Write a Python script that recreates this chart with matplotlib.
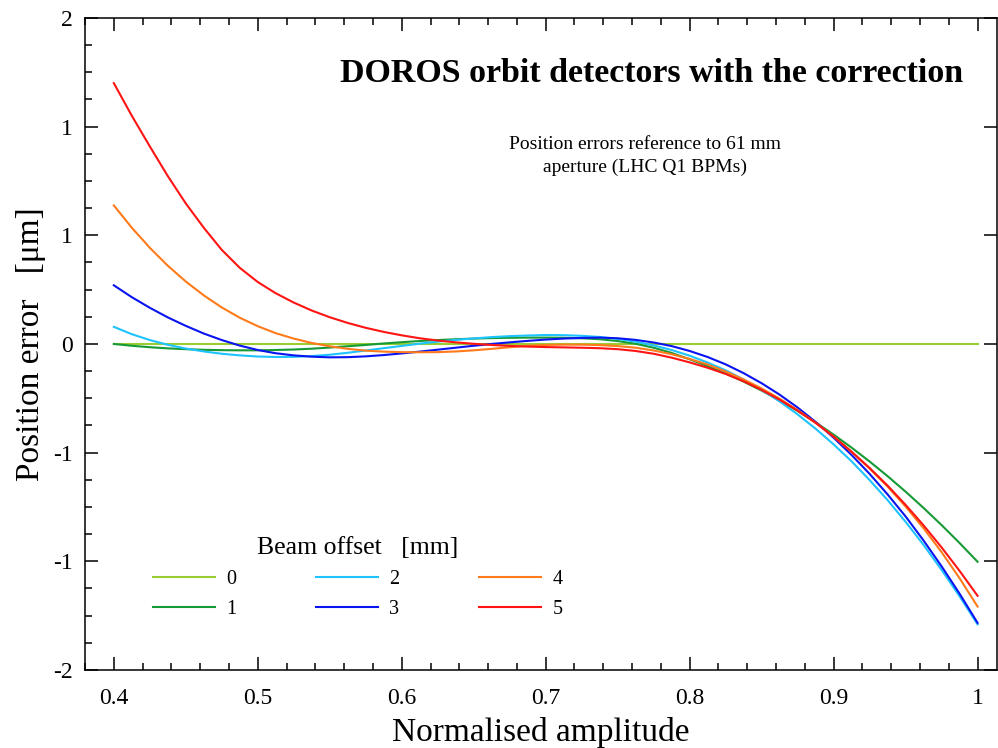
import matplotlib
matplotlib.use("Agg")
import matplotlib.pyplot as plt
from matplotlib.ticker import AutoMinorLocator, FixedLocator

plt.rcParams['font.family'] = ['Liberation Serif', 'DejaVu Serif']

# Normalised amplitude (common x for all curves)
amplitude = [0.4000, 0.4125, 0.4250, 0.4375, 0.4500, 0.4625, 0.4750, 0.4875,
             0.5000, 0.5125, 0.5250, 0.5375, 0.5500, 0.5625, 0.5750, 0.5875,
             0.6000, 0.6125, 0.6250, 0.6375, 0.6500, 0.6625, 0.6750, 0.6875,
             0.7000, 0.7125, 0.7250, 0.7375, 0.7500, 0.7625, 0.7750, 0.7875,
             0.8000, 0.8125, 0.8250, 0.8375, 0.8500, 0.8625, 0.8750, 0.8875,
             0.9000, 0.9125, 0.9250, 0.9375, 0.9500, 0.9625, 0.9750, 0.9875,
             1.0000]

# Position error for each beam offset
err_0mm = [0.0] * 49
err_1mm = [0.000, -0.011, -0.020, -0.027, -0.032, -0.036, -0.038, -0.039,
           -0.039, -0.037, -0.034, -0.029, -0.022, -0.014, -0.006, 0.003,
           0.011, 0.018, 0.024, 0.029, 0.033, 0.036, 0.038, 0.039,
           0.039, 0.038, 0.035, 0.029, 0.018, 0.001, -0.023, -0.055,
           -0.094, -0.136, -0.181, -0.231, -0.286, -0.346, -0.411, -0.481,
           -0.556, -0.636, -0.721, -0.811, -0.906, -1.006, -1.111, -1.221,
           -1.336]
err_2mm = [0.105, 0.060, 0.024, -0.005, -0.028, -0.046, -0.060, -0.070,
           -0.077, -0.080, -0.079, -0.074, -0.066, -0.054, -0.040, -0.026,
           -0.012, 0.002, 0.014, 0.025, 0.034, 0.042, 0.048, 0.052,
           0.055, 0.054, 0.050, 0.043, 0.031, 0.014, -0.009, -0.037,
           -0.072, -0.114, -0.162, -0.218, -0.281, -0.353, -0.432, -0.520,
           -0.616, -0.720, -0.835, -0.958, -1.091, -1.233, -1.386, -1.548,
           -1.720]
err_3mm = [0.360, 0.287, 0.222, 0.163, 0.111, 0.064, 0.024, -0.010,
           -0.037, -0.057, -0.070, -0.078, -0.082, -0.081, -0.076, -0.068,
           -0.058, -0.047, -0.035, -0.023, -0.011, 0.000, 0.010, 0.019,
           0.027, 0.033, 0.037, 0.039, 0.035, 0.025, 0.009, -0.013,
           -0.043, -0.080, -0.125, -0.179, -0.241, -0.311, -0.390, -0.478,
           -0.575, -0.681, -0.797, -0.923, -1.058, -1.206, -1.364, -1.532,
           -1.711]
err_4mm = [0.850, 0.713, 0.590, 0.480, 0.383, 0.298, 0.224, 0.161,
           0.109, 0.066, 0.033, 0.006, -0.014, -0.030, -0.041, -0.047,
           -0.050, -0.051, -0.050, -0.046, -0.039, -0.030, -0.020, -0.011,
           -0.006, -0.004, -0.004, -0.007, -0.013, -0.023, -0.040, -0.063,
           -0.092, -0.126, -0.169, -0.218, -0.273, -0.336, -0.406, -0.483,
           -0.568, -0.662, -0.764, -0.875, -0.997, -1.131, -1.277, -1.437,
           -1.611]
err_5mm = [1.600, 1.400, 1.212, 1.030, 0.862, 0.713, 0.577, 0.467,
           0.380, 0.311, 0.254, 0.205, 0.164, 0.129, 0.099, 0.074,
           0.053, 0.035, 0.021, 0.010, 0.001, -0.006, -0.012, -0.016,
           -0.019, -0.021, -0.023, -0.026, -0.032, -0.043, -0.060, -0.084,
           -0.113, -0.146, -0.184, -0.229, -0.282, -0.342, -0.409, -0.484,
           -0.568, -0.661, -0.761, -0.869, -0.987, -1.113, -1.248, -1.392,
           -1.545]

offset_labels = ['0', '1', '2', '3', '4', '5']
offset_colors = ['#9acd32', '#159a35', '#1ec3ff', '#0a14f0', '#ff7a1a', '#ff1414']

x_ticks = [0.4, 0.5, 0.6, 0.7, 0.8, 0.9, 1.0]
x_ticklabels = ['0.4', '0.5', '0.6', '0.7', '0.8', '0.9', '1']
y_ticks = [-2.0, -4 / 3, -2 / 3, 0.0, 2 / 3, 4 / 3, 2.0]
y_ticklabels = ['-2', '-1', '-1', '0', '1', '1', '2']

fig = plt.figure(figsize=(9.98, 7.48), dpi=100)
ax = fig.add_axes([0.0852, 0.1043, 0.9138, 0.8717])

series = [err_0mm, err_1mm, err_2mm, err_3mm, err_4mm, err_5mm]
for vals, lab, col in zip(series, offset_labels, offset_colors):
    ax.plot(amplitude, vals, color=col, lw=1.5, label=lab)

ax.set_xlim(0.38, 1.0135)
ax.set_ylim(-2, 2)

ax.xaxis.set_major_locator(FixedLocator(x_ticks))
ax.set_xticklabels(x_ticklabels)
ax.xaxis.set_minor_locator(AutoMinorLocator(5))
ax.yaxis.set_major_locator(FixedLocator(y_ticks))
ax.set_yticklabels(y_ticklabels)
ax.yaxis.set_minor_locator(AutoMinorLocator(4))

ax.tick_params(which='both', direction='in', top=True, right=True, width=1.1)
ax.tick_params(which='major', length=9.5, labelsize=17, pad=9)
ax.tick_params(axis='x', which='major', pad=13)
ax.tick_params(which='minor', length=5)
ax.tick_params(axis='y', which='minor', right=False)
for sp in ax.spines.values():
    sp.set_linewidth(1.1)

ax.set_xlabel('Normalised amplitude', fontsize=24, labelpad=6)
ax.set_ylabel('Position error   [μm]', fontsize=24, labelpad=5)

fig.text(652 / 998, 1 - 73 / 748, 'DOROS orbit detectors with the correction',
         ha='center', va='center', fontsize=24.5, fontweight='bold')
fig.text(645 / 998, 1 - 156 / 748,
         'Position errors reference to 61 mm\naperture (LHC Q1 BPMs)',
         ha='center', va='center', fontsize=14, linespacing=1.4)

leg = ax.legend(ncol=3, title='Beam offset   [mm]', frameon=False,
                fontsize=14.5, title_fontsize=18.5,
                handlelength=3.1, handletextpad=0.55, columnspacing=3.95,
                labelspacing=0.55, borderpad=0, borderaxespad=0,
                loc='upper left', bbox_to_anchor=(0.153, 1 - 537 / 748),
                bbox_transform=fig.transFigure)

fig.savefig('out.png', dpi=100)
